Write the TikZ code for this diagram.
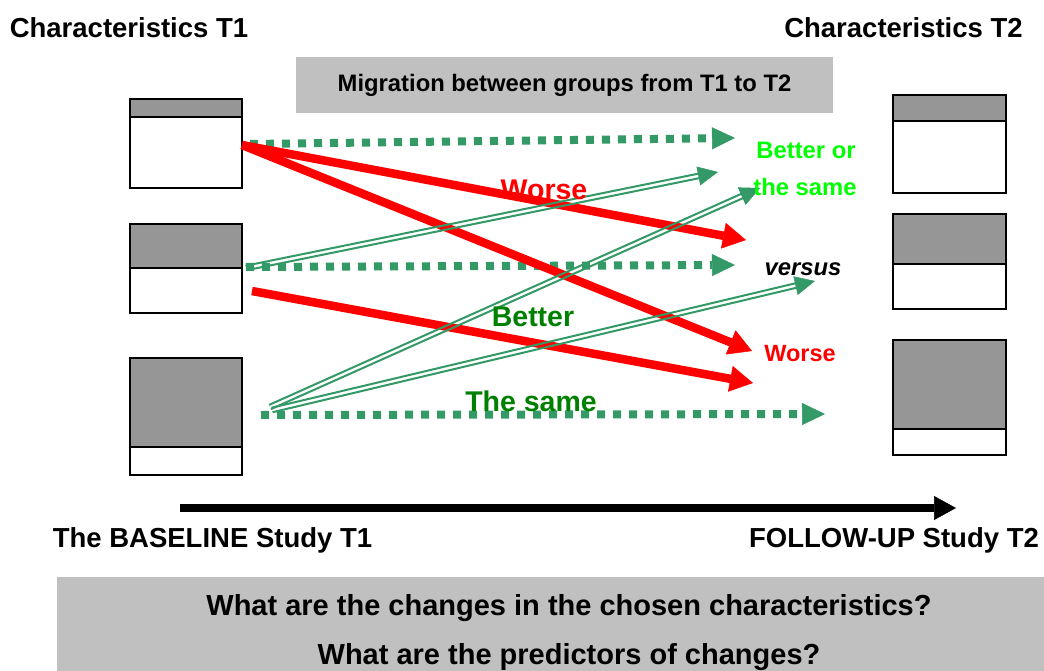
\documentclass[tikz,border=0pt]{standalone}
\usepackage{fontspec}
\setmainfont{Liberation Sans}
\usetikzlibrary{arrows.meta,calc}
\definecolor{sgreen}{HTML}{339966}
\definecolor{dgreen}{HTML}{008000}
\definecolor{lgreen}{HTML}{00FF00}
\definecolor{boxgray}{HTML}{969696}
\definecolor{panelgray}{HTML}{C0C0C0}
\newcommand\dblarr[2]{%
  \draw[dblline] ($(#1)!2.3pt!90:(#2)$) -- ($(#2)!2.3pt!-90:(#1)$);
  \draw[dblline] ($(#1)!2.3pt!-90:(#2)$) -- ($(#2)!2.3pt!90:(#1)$);
  \draw[dblhead] ($(#2)!20pt!(#1)$) -- (#2);}
\newcommand\fs[1]{\fontsize{#1}{#1}\selectfont\bfseries}
\begin{document}
\begin{tikzpicture}[x=1pt,y=-1pt,
  lbl/.style={inner sep=0pt, anchor=base},
  panel/.style={fill=panelgray, draw=none},
  boxtop/.style={fill=boxgray, draw=black, line width=2.5pt},
  boxbot/.style={fill=white, draw=black, line width=2.5pt},
  dotarr/.style={draw=sgreen, line width=8pt, dash pattern=on 8pt off 8pt,
    -{Triangle[length=23pt,width=22pt,line width=0.5pt]}},
  redarr/.style={draw=red, line width=8.5pt,
    -{Triangle[length=23pt,width=26pt,line width=0.5pt]}},
  dblline/.style={draw=sgreen, line width=2pt, shorten >=14pt},
  dblhead/.style={draw=sgreen, line width=0.1pt,
    -{Triangle[length=20pt,width=19pt,line width=0.5pt]}},
  timearr/.style={draw=black, line width=8pt,
    -{Triangle[length=22pt,width=24pt,line width=0.5pt]}}]
\useasboundingbox (0,0) rectangle (1044,671);
\clip (0,0) rectangle (1044,671);

% headings
\node[lbl] (h1) at (129,38) {\fs{27.5}Characteristics T1};
\node[lbl] (h2) at (903.5,38) {\fs{27.5}Characteristics T2};

% migration panel
\path[panel] (296,57) rectangle (833,113);
\node[lbl] (mig) at (564.5,91.5) {\fs{23.8}Migration between groups from T1 to T2};

% left boxes
\draw[boxbot] (130,117) rectangle (242,188);
\draw[boxtop] (130,99) rectangle (242,117);
\draw[boxbot] (130,268) rectangle (242,313);
\draw[boxtop] (130,224) rectangle (242,268);
\draw[boxbot] (130,447) rectangle (242,475);
\draw[boxtop] (130,358) rectangle (242,447);

% right boxes
\draw[boxbot] (893,121) rectangle (1006,193);
\draw[boxtop] (893,95) rectangle (1006,121);
\draw[boxbot] (893,264) rectangle (1006,309);
\draw[boxtop] (893,214) rectangle (1006,264);
\draw[boxbot] (893,429) rectangle (1006,455);
\draw[boxtop] (893,340) rectangle (1006,429);

% coordinates
\coordinate (d1s) at (250,144);
\coordinate (d1t) at (735,138);
\coordinate (d2s) at (246,267);
\coordinate (d2t) at (735,265);
\coordinate (d3s) at (261,415);
\coordinate (d3t) at (825,414);
\coordinate (r1s) at (242,145);
\coordinate (r1t) at (746,240);
\coordinate (r2t) at (752,351);
\coordinate (r3s) at (252,291);
\coordinate (r3t) at (753,383);
\coordinate (g1s) at (246,268);
\coordinate (g1t) at (718,172);
\coordinate (g2s) at (270,407);
\coordinate (g2t) at (760,188);
\coordinate (g3s) at (272,410);
\coordinate (g3t) at (815,281);

% dotted "same" arrows
\draw[dotarr] (d1s) -- (d1t);
\draw[dotarr] (d2s) -- (d2t);
\draw[dotarr] (d3s) -- (d3t);

% red "worse" arrows
\draw[redarr] (r1s) -- (r1t);
\draw[redarr] (r1s) -- (r2t);
\draw[redarr] (r3s) -- (r3t);

% double "better" arrows
\dblarr{g1s}{g1t}
\dblarr{g2s}{g2t}
\dblarr{g3s}{g3t}

% labels
\node[lbl, text=red] (w1) at (544,200) {\fs{28.5}Worse};
\node[lbl, text=dgreen] (bt) at (533,326) {\fs{28.5}Better};
\node[lbl, text=dgreen] (ts) at (531,411) {\fs{28.5}The same};
\node[lbl, text=lgreen] (bo) at (806,158.5) {\fs{23.8}Better or};
\node[lbl, text=lgreen] (tsm) at (805,195.5) {\fs{23.8}the same};
\node[lbl] (vs) at (803,275.5) {\fs{23.8}\itshape versus};
\node[lbl, text=red] (w2) at (800,361.5) {\fs{23.5}Worse};

% time arrow
\coordinate (ta) at (180,508);
\coordinate (tb) at (956,508);
\draw[timearr] (ta) -- (tb);
\node[lbl] (base) at (212.5,547) {\fs{27.5}The BASELINE Study T1};
\node[lbl] (foll) at (894,547) {\fs{27.5}FOLLOW-UP Study T2};

% bottom panel
\path[panel] (57,577) rectangle (1060,690);
\node[lbl] (q1) at (569,615) {\fs{29}What are the changes in the chosen characteristics?};
\node[lbl] (q2) at (569,664) {\fs{29}What are the predictors of changes?};
\end{tikzpicture}
\end{document}
